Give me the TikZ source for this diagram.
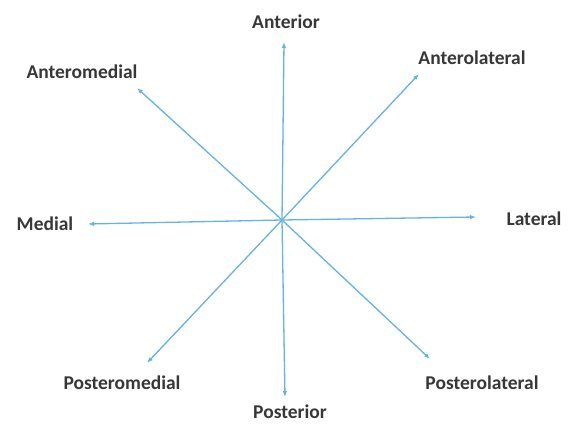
\documentclass[tikz,border=0pt]{standalone}
\usepackage{fontspec}
\setmainfont{Carlito}
\usetikzlibrary{arrows.meta}
\definecolor{axisblue}{RGB}{100,178,230}
\definecolor{labelgray}{RGB}{55,55,55}
\tikzset{
  dirarrow/.style={-{Latex[length=6pt,width=4.5pt]}, draw=axisblue, line width=1.3pt},
  dirlabel/.style={font=\fontsize{19.5}{22}\selectfont\bfseries, text=labelgray, inner sep=0pt}
}

\begin{document}
\begin{tikzpicture}[x=1pt,y=-1pt]
  %%Location
  \useasboundingbox (0,0) rectangle (570,425);
  %%Centre
  \coordinate (o) at (282,220);
  %%Tips
  \coordinate (ant) at (284,42);
  \coordinate (antlat) at (419,74);
  \coordinate (lat) at (476,217);
  \coordinate (postlat) at (430,359);
  \coordinate (post) at (285,397);
  \coordinate (postmed) at (147,363);
  \coordinate (med) at (88,224);
  \coordinate (antmed) at (137,88);

  %%Label
  \node[dirlabel] (antlabel) at (286,22) {Anterior};
  \node[dirlabel] (antlatlabel) at (472,58) {Anterolateral};
  \node[dirlabel] (latlabel) at (534,219) {Lateral};
  \node[dirlabel] (postlatlabel) at (482,383) {Posterolateral};
  \node[dirlabel] (postlabel) at (290,412) {Posterior};
  \node[dirlabel] (postmedlabel) at (122,383) {Posteromedial};
  \node[dirlabel] (medlabel) at (45,224) {Medial};
  \node[dirlabel] (antmedlabel) at (82,72) {Anteromedial};

  %%Arrows
  \draw[dirarrow] (o) -- (ant);
  \draw[dirarrow] (o) -- (antlat);
  \draw[dirarrow] (o) -- (lat);
  \draw[dirarrow] (o) -- (postlat);
  \draw[dirarrow] (o) -- (post);
  \draw[dirarrow] (o) -- (postmed);
  \draw[dirarrow] (o) -- (med);
  \draw[dirarrow] (o) -- (antmed);
\end{tikzpicture}
\end{document}
